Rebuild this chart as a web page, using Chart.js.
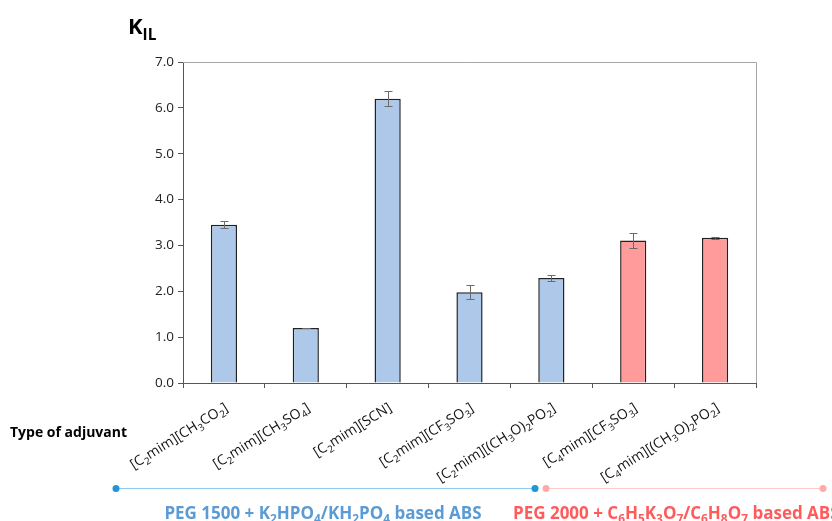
<!DOCTYPE html>
<html>
<head>
  <meta charset="UTF-8">
  <title>K_IL by type of adjuvant</title>
  <script src="https://cdn.jsdelivr.net/npm/chart.js"></script>
  <style>
    body { margin: 0; background: #fff; }
    canvas { display: block; }
  </style>
</head>
<body>
  <canvas id="chart" width="832" height="521"></canvas>

  <script>
    // data ("_x" marks a subscript character)
    const adjuvants = [
      '[C_2mim][CH_3CO_2]',
      '[C_2mim][CH_3SO_4]',
      '[C_2mim][SCN]',
      '[C_2mim][CF_3SO_3]',
      '[C_2mim][(CH_3O)_2PO_2]',
      '[C_4mim][CF_3SO_3]',
      '[C_4mim][(CH_3O)_2PO_2]'
    ];
    const kIL = [3.45, 1.20, 6.20, 1.98, 2.29, 3.11, 3.17];
    const kILerr = [0.08, 0.01, 0.16, 0.15, 0.07, 0.17, 0.02];
    const system = ['K', 'K', 'K', 'K', 'K', 'C', 'C']; // K = phosphate ABS, C = citrate ABS

    const blueFill = '#aec8e9';
    const redFill = '#ff9b9b';
    const FONT = '"Open Sans", sans-serif';

    function parse(str) {
      const out = [];
      let i = 0;
      while (i < str.length) {
        if (str[i] === '_') { out.push({ t: str[i + 1], sub: true }); i += 2; }
        else {
          let j = i;
          while (j < str.length && str[j] !== '_') j++;
          out.push({ t: str.slice(i, j), sub: false });
          i = j;
        }
      }
      return out;
    }

    // text with lowered, smaller subscript parts; align left / center / right
    function richText(ctx, parts, x, y, size, color, align, weight) {
      const w = weight || 'bold';
      const fontOf = p => w + ' ' + (p.sub ? size * 0.7 : size) + 'px ' + FONT;
      ctx.save();
      ctx.fillStyle = color;
      ctx.textBaseline = 'alphabetic';
      ctx.textAlign = 'left';
      let total = 0;
      parts.forEach(p => { ctx.font = fontOf(p); total += ctx.measureText(p.t).width; });
      let cx = x;
      if (align === 'center') cx = x - total / 2;
      if (align === 'right') cx = x - total;
      parts.forEach(p => {
        ctx.font = fontOf(p);
        ctx.fillText(p.t, cx, p.sub ? y + size * 0.25 : y);
        cx += ctx.measureText(p.t).width;
      });
      ctx.restore();
    }

    const extras = {
      id: 'extras',
      afterDatasetsDraw(chart) {
        const { ctx, chartArea: a, scales: { x, y } } = chart;
        ctx.save();
        ctx.strokeStyle = '#a6a6a6';
        ctx.lineWidth = 1;
        ctx.beginPath();
        ctx.moveTo(a.left, a.top + 0.5);
        ctx.lineTo(a.right + 0.5, a.top + 0.5);
        ctx.lineTo(a.right + 0.5, a.bottom);
        ctx.stroke();

        // error bars
        ctx.strokeStyle = '#6b6b6b';
        kIL.forEach((v, i) => {
          const cx = Math.round(x.getPixelForValue(i)) + 0.5;
          const top = Math.round(y.getPixelForValue(v + kILerr[i])) + 0.5;
          const bot = Math.round(y.getPixelForValue(v - kILerr[i])) + 0.5;
          ctx.beginPath();
          ctx.moveTo(cx, top); ctx.lineTo(cx, bot);
          ctx.moveTo(cx - 4, top); ctx.lineTo(cx + 4, top);
          ctx.moveTo(cx - 4, bot); ctx.lineTo(cx + 4, bot);
          ctx.stroke();
        });
        ctx.restore();
      },
      afterDraw(chart) {
        const { ctx, chartArea: a, scales: { x } } = chart;

        // rotated category labels with real subscripts
        adjuvants.forEach((lab, i) => {
          const cx = x.getPixelForValue(i);
          ctx.save();
          ctx.translate(cx + 5, a.bottom + 27);
          ctx.rotate(-32 * Math.PI / 180);
          richText(ctx, parse(lab), 0, 0, 14, '#111', 'right', 'normal');
          ctx.restore();
        });

        // axis titles
        richText(ctx, [{ t: 'K', sub: false }, { t: 'IL', sub: true }], 128, 34, 22, '#000', 'left');
        richText(ctx, [{ t: 'Type of adjuvant', sub: false }], 10, 437, 14, '#000', 'left');

        // system brackets
        ctx.save();
        ctx.lineWidth = 1;
        ctx.strokeStyle = '#8fcdf0';
        ctx.beginPath(); ctx.moveTo(116, 488.5); ctx.lineTo(535, 488.5); ctx.stroke();
        ctx.strokeStyle = '#ffcaca';
        ctx.beginPath(); ctx.moveTo(546, 488.5); ctx.lineTo(823, 488.5); ctx.stroke();
        [[116, '#1e96d8'], [535, '#1e96d8'], [546, '#ffaaaa'], [823, '#ffaaaa']].forEach(([px, c]) => {
          ctx.fillStyle = c;
          ctx.beginPath(); ctx.arc(px, 488.5, 3.5, 0, Math.PI * 2); ctx.fill();
        });
        ctx.restore();

        richText(ctx, parse('PEG 1500 + K_2HPO_4/KH_2PO_4 based ABS'), 323, 519, 17, '#5b9bd5', 'center');
        richText(ctx, parse('PEG 2000 + C_6H_5K_3O_7/C_6H_8O_7 based ABS'), 513, 519, 17, '#ff5b5b', 'left');
      }
    };

    new Chart(document.getElementById('chart'), {
      type: 'bar',
      data: {
        labels: adjuvants,
        datasets: [{
          data: kIL,
          backgroundColor: system.map(s => s === 'K' ? blueFill : redFill),
          borderColor: '#222222',
          borderWidth: 1.5,
          borderSkipped: 'bottom',
          barPercentage: 0.32,
          categoryPercentage: 1
        }]
      },
      options: {
        responsive: false,
        animation: false,
        layout: { padding: { left: 143, right: 76, top: 62, bottom: 0 } },
        plugins: {
          legend: { display: false },
          tooltip: { enabled: false }
        },
        scales: {
          x: {
            afterFit(s) { s.height = 138; },
            grid: { offset: true, drawOnChartArea: false, drawTicks: true, tickLength: 5, color: '#555' },
            border: { color: '#555', width: 1 },
            ticks: { callback: () => '', autoSkip: false }
          },
          y: {
            min: 0, max: 7,
            afterFit(s) { s.width = 40; },
            grid: { drawOnChartArea: false, drawTicks: true, tickLength: 5, color: '#555' },
            border: { color: '#555', width: 1 },
            ticks: {
              stepSize: 1,
              color: '#222',
              padding: 4,
              font: { family: FONT, size: 13.5 },
              callback: v => Number(v).toFixed(1)
            }
          }
        }
      },
      plugins: [extras]
    });
  </script>
</body>
</html>
